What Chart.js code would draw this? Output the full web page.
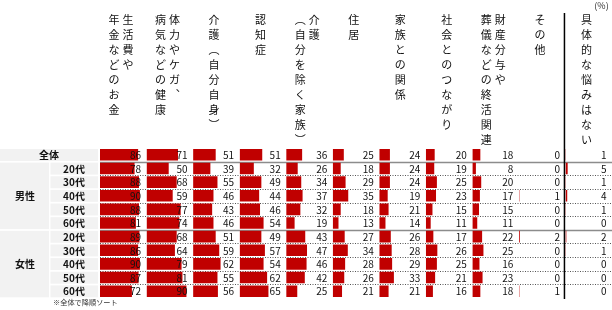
<!DOCTYPE html>
<html lang="ja">
<head>
<meta charset="utf-8">
<style>
  html, body { margin: 0; padding: 0; background: #fff; }
  #wrap { width: 612px; height: 310px; }
</style>
<script src="https://cdn.jsdelivr.net/npm/chart.js"></script>
</head>
<body>
<div id="wrap"><canvas id="myChart" width="612" height="310"></canvas></div>
<script>
// rows
const genders = ['男性', '女性'];
const ages = ['20代', '30代', '40代', '50代', '60代'];
const rowLabels = ['全体'].concat(...genders.map(g => ages.map(a => g + ' ' + a)));

// columns (\n = next vertical line, right to left)
const columns = [
    '生活費や\n年金などのお金',
    '体力やケガ、\n病気などの健康',
    '介護（自分自身）',
    '認知症',
    '介護\n（自分を除く家族）',
    '住居',
    '家族との関係',
    '社会とのつながり',
    '財産分与や\n葬儀などの終活関連',
    'その他',
    '具体的な悩みはない'
];

// values in %, order: 全体, 男性20-60代, 女性20-60代
const money      = [86, 78, 88, 90, 88, 81, 89, 86, 90, 87, 72];
const health     = [71, 50, 68, 59, 77, 74, 68, 64, 79, 81, 90];
const careSelf   = [51, 39, 55, 46, 43, 46, 51, 59, 62, 55, 56];
const dementia   = [51, 32, 49, 44, 46, 54, 49, 57, 54, 62, 65];
const careFamily = [36, 26, 34, 37, 32, 19, 43, 47, 46, 42, 25];
const housing    = [25, 18, 29, 35, 18, 13, 27, 34, 28, 26, 21];
const familyRel  = [24, 24, 24, 19, 21, 14, 26, 28, 29, 33, 21];
const social     = [20, 19, 25, 23, 15, 11, 17, 26, 25, 21, 16];
const endOfLife  = [18,  8, 20, 17, 15, 11, 22, 25, 16, 23, 18];
const other      = [ 0,  0,  0,  1,  0,  0,  2,  0,  0,  0,  1];
const noWorry    = [ 1,  5,  1,  4,  1,  0,  2,  1,  0,  0,  0];

const series = [money, health, careSelf, dementia, careFamily, housing,
    familyRel, social, endOfLife, other, noWorry];

const barColor = '#c00000';
const axisMax = 105;
const font = '"Noto Sans CJK JP", "Noto Sans", sans-serif';

// one x axis per column, laid side by side
const scales = { y: { display: false } };
series.forEach(function(s, i) {
    scales['x' + i] = {
        type: 'linear',
        axis: 'x',
        position: 'bottom',
        stack: 'cols',
        min: 0,
        max: axisMax,
        ticks: { display: false },
        grid: { display: false, drawTicks: false },
        border: { display: false }
    };
});

// draws label cells, separators, numbers and headers
const tablePlugin = {
    id: 'table',
    beforeDatasetsDraw: function(chart) {
        const ctx = chart.ctx;
        const area = chart.chartArea;
        const pitch = area.height / rowLabels.length;
        ctx.save();
        ctx.fillStyle = '#f2f2f2';
        ctx.fillRect(0, area.top + 1, 98, pitch - 1.7);
        for (let r = 1; r < rowLabels.length; r++) {
            ctx.fillRect(50.5, area.top + r * pitch + 1, 47.5, pitch - 1.7);
        }
        genders.forEach(function(g, k) {
            const top = area.top + (1 + k * ages.length) * pitch;
            ctx.fillRect(0, top + 1, 49, ages.length * pitch - 1.7);
        });
        // row separators
        for (let r = 1; r < rowLabels.length; r++) {
            const y = Math.round(area.top + r * pitch) + 0.5;
            ctx.beginPath();
            if ((r - 1) % ages.length === 0) {
                ctx.setLineDash([]);
                ctx.strokeStyle = '#8c8c8c';
                ctx.lineWidth = 1.3;
            } else {
                ctx.setLineDash([1, 1.5]);
                ctx.strokeStyle = '#555';
                ctx.lineWidth = 1;
            }
            ctx.moveTo(area.left, y);
            ctx.lineTo(area.right, y);
            ctx.stroke();
        }
        ctx.restore();
    },
    afterDatasetsDraw: function(chart) {
        const ctx = chart.ctx;
        const area = chart.chartArea;
        const yScale = chart.scales.y;
        const pitch = area.height / rowLabels.length;
        ctx.save();

        // values
        ctx.fillStyle = '#111';
        ctx.font = '10px ' + font;
        ctx.textAlign = 'right';
        ctx.textBaseline = 'middle';
        series.forEach(function(values, i) {
            const sc = chart.scales['x' + i];
            values.forEach(function(v, r) {
                ctx.fillText(String(v), sc.right - 5.5, yScale.getPixelForValue(r) + 0.5);
            });
        });

        // divider before last column
        const last = chart.scales['x' + (series.length - 1)];
        ctx.strokeStyle = '#000';
        ctx.lineWidth = 1.5;
        ctx.beginPath();
        ctx.moveTo(last.left - 1, 13);
        ctx.lineTo(last.left - 1, area.bottom + 1);
        ctx.stroke();

        // row labels
        ctx.textAlign = 'center';
        ctx.fillStyle = '#111';
        ctx.font = 'bold 10px ' + font;
        ctx.fillText('全体', 49, yScale.getPixelForValue(0) + 0.5);
        genders.forEach(function(g, k) {
            const top = area.top + (1 + k * ages.length) * pitch;
            ctx.fillText(g, 25, top + ages.length * pitch / 2);
            ages.forEach(function(a, j) {
                ctx.fillText(a, 74, yScale.getPixelForValue(1 + k * ages.length + j) + 0.5);
            });
        });

        // vertical column headers
        const vert = { '（': '︵', '）': '︶', '、': '︑' };
        ctx.font = '11px ' + font;
        ctx.fillStyle = '#111';
        columns.forEach(function(text, i) {
            const sc = chart.scales['x' + i];
            const lines = text.split('\n');
            const cx = sc.left + sc.width / 2 - 2.3;
            lines.forEach(function(line, j) {
                const x = cx + ((lines.length - 1) / 2 - j) * 14;
                Array.from(line).forEach(function(ch, k) {
                    ctx.fillText(vert[ch] || ch, x, 19.5 + k * 15);
                });
            });
        });

        // unit and note
        ctx.font = '9px ' + font;
        ctx.fillStyle = '#333';
        ctx.fillText('(%)', 601.5, 6);
        ctx.textAlign = 'left';
        ctx.font = '7.2px ' + font;
        ctx.fillText('※全体で降順ソート', 53, 302.5);
        ctx.restore();
    }
};

var ctx = document.getElementById('myChart').getContext('2d');
var myChart = new Chart(ctx, {
    type: 'bar',
    data: {
        labels: rowLabels,
        datasets: series.map(function(values, i) {
            return {
                label: columns[i].replace('\n', ''),
                data: values,
                xAxisID: 'x' + i,
                backgroundColor: barColor,
                grouped: false,
                barPercentage: 1,
                categoryPercentage: 0.85
            };
        })
    },
    options: {
        indexAxis: 'y',
        responsive: false,
        animation: false,
        layout: { padding: { left: 100, right: 0, top: 148, bottom: 12 } },
        scales: scales,
        plugins: {
            legend: { display: false },
            tooltip: { enabled: false }
        }
    },
    plugins: [tablePlugin]
});
</script>
</body>
</html>
